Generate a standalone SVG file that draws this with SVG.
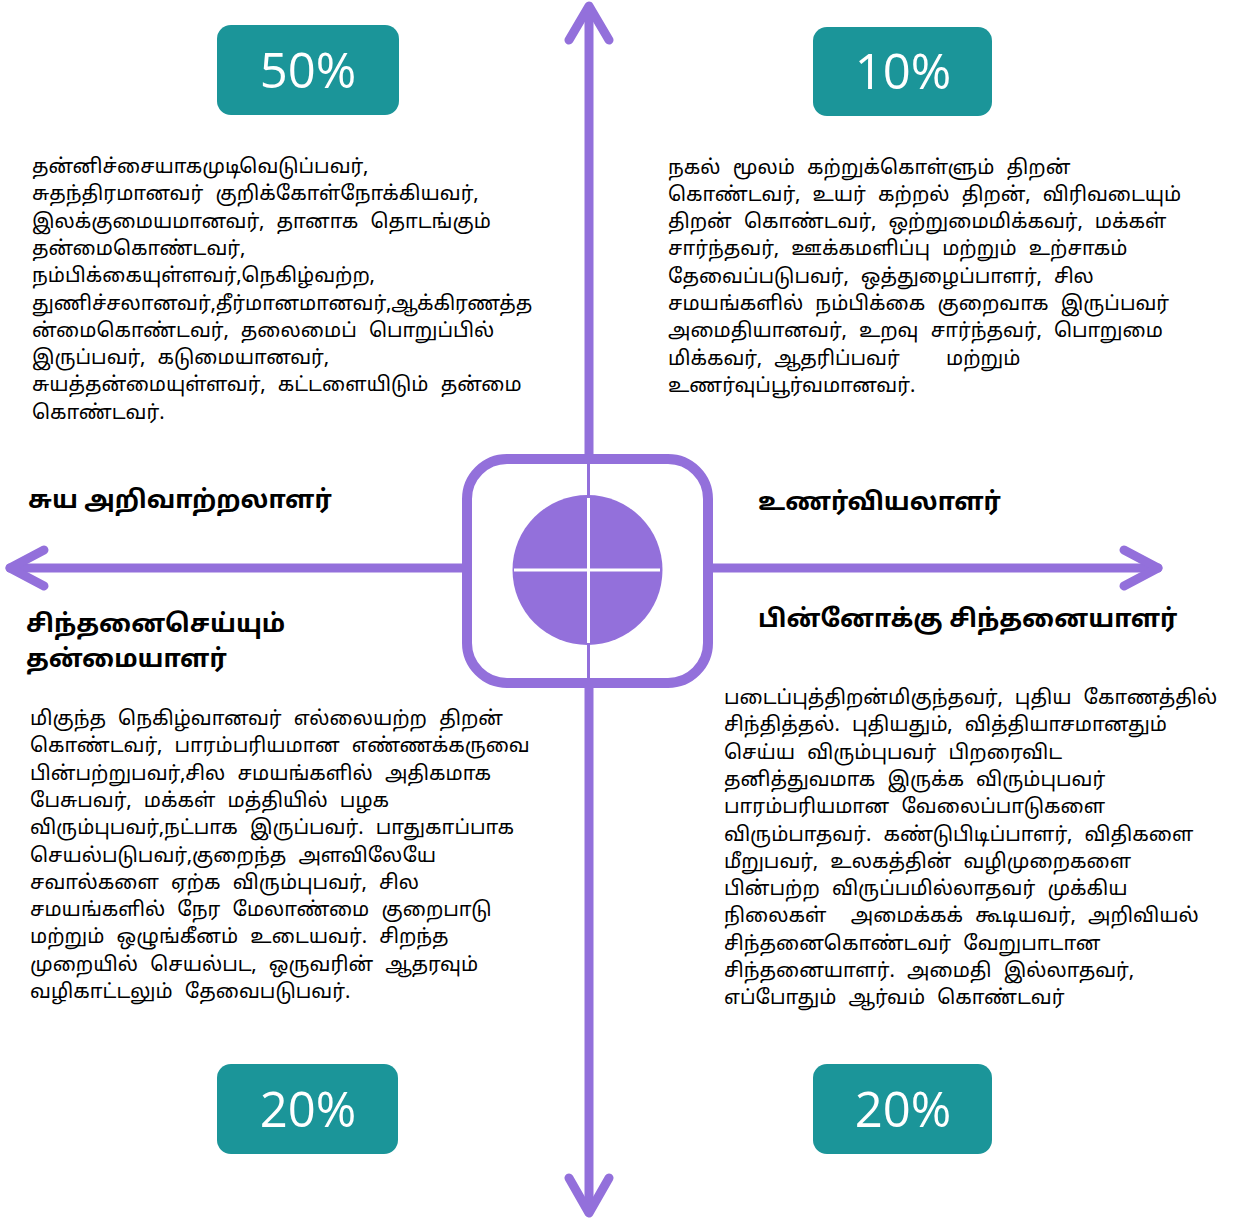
<svg xmlns="http://www.w3.org/2000/svg" width="1234" height="1219" viewBox="0 0 1234 1219">
  <style>
    .axis { stroke: #9370db; stroke-width: 9; fill: none; stroke-linecap: round; stroke-linejoin: round; }
    .badge { fill: #1b9599; }
    .pct { font-family: "Open Sans", "Noto Sans", sans-serif; font-size: 49px; fill: #ffffff; text-anchor: middle; }
    .body { font-family: "Noto Sans Tamil", "Lohit Tamil", "Noto Sans", "Liberation Sans", sans-serif; font-size: 20px; word-spacing: 7px; fill: #000000; white-space: pre; }
    .head { font-family: "Noto Sans Tamil", "Lohit Tamil", "Noto Sans", "Liberation Sans", sans-serif; font-size: 25px; font-weight: bold; fill: #000000; }
  </style>
  <rect width="1234" height="1219" fill="#ffffff"/>

  <g id="connectors">
    <!-- vertical axis, both directions -->
    <line class="axis" x1="589" y1="8" x2="589" y2="455"/>
    <line class="axis" x1="589" y1="687" x2="589" y2="1212"/>
    <polyline class="axis" points="569,40 589,6 609,40"/>
    <polyline class="axis" points="569,1178 589,1213 609,1178"/>
    <!-- horizontal axis, both directions -->
    <line class="axis" x1="10" y1="568" x2="462" y2="568"/>
    <line class="axis" x1="712" y1="568" x2="1158" y2="568"/>
    <polyline class="axis" points="44,550 10,568 44,586"/>
    <polyline class="axis" points="1124,550 1158,568 1124,586"/>
  </g>

  <g id="center-mark">
    <rect x="467" y="459" width="241" height="224" rx="40" ry="40" fill="none" stroke="#9370db" stroke-width="10"/>
    <line x1="588.5" y1="463" x2="588.5" y2="684" stroke="#9370db" stroke-width="3"/>
    <circle cx="587.5" cy="570" r="75" fill="#9370db"/>
    <line x1="514" y1="570" x2="660" y2="570" stroke="#ffffff" stroke-width="3"/>
    <line x1="588.5" y1="498" x2="588.5" y2="643" stroke="#ffffff" stroke-width="3"/>
  </g>

  <g id="badge-50">
    <rect class="badge" x="217" y="25" width="182" height="90" rx="14"/>
    <text class="pct" x="308" y="88">50%</text>
  </g>
  <g id="badge-10">
    <rect class="badge" x="813" y="27" width="179" height="89" rx="14"/>
    <text class="pct" x="903" y="89">10%</text>
  </g>
  <g id="badge-20-left">
    <rect class="badge" x="217" y="1064" width="181" height="90" rx="14"/>
    <text class="pct" x="308" y="1127">20%</text>
  </g>
  <g id="badge-20-right">
    <rect class="badge" x="813" y="1064" width="179" height="90" rx="14"/>
    <text class="pct" x="903" y="1127">20%</text>
  </g>

  <g id="quadrant-top-left">
    <text class="head" x="28" y="508">சுய அறிவாற்றலாளர்</text>
    <text class="body">
      <tspan x="32" y="173">தன்னிச்சையாகமுடிவெடுப்பவர்,</tspan>
      <tspan x="32" y="200.3">சுதந்திரமானவர் குறிக்கோள்நோக்கியவர்,</tspan>
      <tspan x="32" y="227.6">இலக்குமையமானவர், தானாக தொடங்கும்</tspan>
      <tspan x="32" y="254.9">தன்மைகொண்டவர்,</tspan>
      <tspan x="32" y="282.2">நம்பிக்கையுள்ளவர்,நெகிழ்வற்ற,</tspan>
      <tspan x="32" y="309.5">துணிச்சலானவர்,தீர்மானமானவர்,ஆக்கிரணத்த</tspan>
      <tspan x="32" y="336.8">ன்மைகொண்டவர், தலைமைப் பொறுப்பில்</tspan>
      <tspan x="32" y="364.1">இருப்பவர், கடுமையானவர்,</tspan>
      <tspan x="32" y="391.4">சுயத்தன்மையுள்ளவர், கட்டளையிடும் தன்மை</tspan>
      <tspan x="32" y="418.7">கொண்டவர்.</tspan>
    </text>
  </g>

  <g id="quadrant-top-right">
    <text class="head" x="758" y="510">உணர்வியலாளர்</text>
    <text class="body">
      <tspan x="668" y="173.5">நகல் மூலம் கற்றுக்கொள்ளும் திறன்</tspan>
      <tspan x="668" y="200.8">கொண்டவர், உயர் கற்றல் திறன், விரிவடையும்</tspan>
      <tspan x="668" y="228.1">திறன் கொண்டவர், ஒற்றுமைமிக்கவர், மக்கள்</tspan>
      <tspan x="668" y="255.4">சார்ந்தவர், ஊக்கமளிப்பு மற்றும் உற்சாகம்</tspan>
      <tspan x="668" y="282.7">தேவைப்படுபவர், ஒத்துழைப்பாளர், சில</tspan>
      <tspan x="668" y="310">சமயங்களில் நம்பிக்கை குறைவாக இருப்பவர்</tspan>
      <tspan x="668" y="337.3">அமைதியானவர், உறவு சார்ந்தவர், பொறுமை</tspan>
      <tspan x="668" y="364.6">மிக்கவர், ஆதரிப்பவர்</tspan><tspan x="946" y="364.6">மற்றும்</tspan>
      <tspan x="668" y="391.9">உணர்வுப்பூர்வமானவர்.</tspan>
    </text>
  </g>

  <g id="quadrant-bottom-left">
    <text class="head"><tspan x="26" y="632">சிந்தனைசெய்யும்</tspan><tspan x="26" y="667">தன்மையாளர்</tspan></text>
    <text class="body">
      <tspan x="30" y="725">மிகுந்த நெகிழ்வானவர் எல்லையற்ற திறன்</tspan>
      <tspan x="30" y="752.3">கொண்டவர், பாரம்பரியமான எண்ணக்கருவை</tspan>
      <tspan x="30" y="779.6">பின்பற்றுபவர்,சில சமயங்களில் அதிகமாக</tspan>
      <tspan x="30" y="806.9">பேசுபவர், மக்கள் மத்தியில் பழக</tspan>
      <tspan x="30" y="834.2">விரும்புபவர்,நட்பாக இருப்பவர். பாதுகாப்பாக</tspan>
      <tspan x="30" y="861.5">செயல்படுபவர்,குறைந்த அளவிலேயே</tspan>
      <tspan x="30" y="888.8">சவால்களை ஏற்க விரும்புபவர், சில</tspan>
      <tspan x="30" y="916.1">சமயங்களில் நேர மேலாண்மை குறைபாடு</tspan>
      <tspan x="30" y="943.4">மற்றும் ஒழுங்கீனம் உடையவர். சிறந்த</tspan>
      <tspan x="30" y="970.7">முறையில் செயல்பட, ஒருவரின் ஆதரவும்</tspan>
      <tspan x="30" y="998">வழிகாட்டலும் தேவைபடுபவர்.</tspan>
    </text>
  </g>

  <g id="quadrant-bottom-right">
    <text class="head" x="758" y="627">பின்னோக்கு சிந்தனையாளர்</text>
    <text class="body">
      <tspan x="724" y="704">படைப்புத்திறன்மிகுந்தவர், புதிய கோணத்தில்</tspan>
      <tspan x="724" y="731.3">சிந்தித்தல். புதியதும், வித்தியாசமானதும்</tspan>
      <tspan x="724" y="758.6">செய்ய விரும்புபவர் பிறரைவிட</tspan>
      <tspan x="724" y="785.9">தனித்துவமாக இருக்க விரும்புபவர்</tspan>
      <tspan x="724" y="813.2">பாரம்பரியமான வேலைப்பாடுகளை</tspan>
      <tspan x="724" y="840.5">விரும்பாதவர். கண்டுபிடிப்பாளர், விதிகளை</tspan>
      <tspan x="724" y="867.8">மீறுபவர், உலகத்தின் வழிமுறைகளை</tspan>
      <tspan x="724" y="895.1">பின்பற்ற விருப்பமில்லாதவர் முக்கிய</tspan>
      <tspan x="724" y="922.4">நிலைகள்  அமைக்கக் கூடியவர், அறிவியல்</tspan>
      <tspan x="724" y="949.7">சிந்தனைகொண்டவர் வேறுபாடான</tspan>
      <tspan x="724" y="977">சிந்தனையாளர். அமைதி இல்லாதவர்,</tspan>
      <tspan x="724" y="1004.3">எப்போதும் ஆர்வம் கொண்டவர்</tspan>
    </text>
  </g>
</svg>
